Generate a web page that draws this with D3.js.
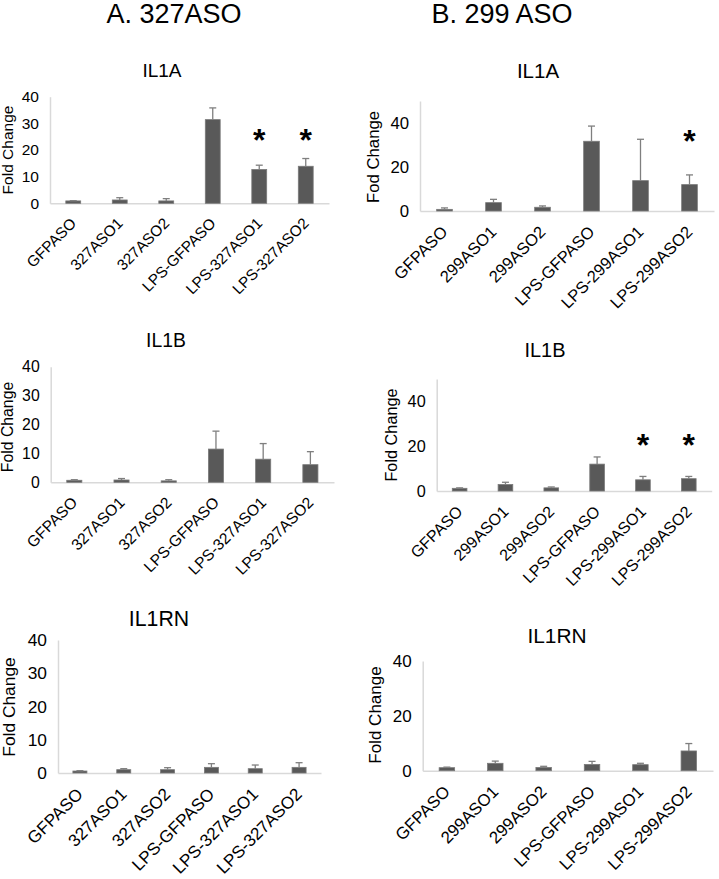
<!DOCTYPE html>
<html><head><meta charset="utf-8">
<script src="https://cdn.jsdelivr.net/npm/d3@7"></script>
<style>
html,body{margin:0;padding:0;background:#fff;}
text{font-family:"Liberation Sans",Arial,sans-serif;fill:#000;}
</style></head>
<body>
<svg id="chart" width="719" height="879"></svg>
<script>
// ---- data ----
const catsA = ["GFPASO","327ASO1","327ASO2","LPS-GFPASO","LPS-327ASO1","LPS-327ASO2"];
const catsB = ["GFPASO","299ASO1","299ASO2","LPS-GFPASO","LPS-299ASO1","LPS-299ASO2"];
const headings = ["A. 327ASO","B. 299 ASO"];
const ticksA = [0,10,20,30,40];
const ticksB = [0,20,40];

const il1aA = [0.9,1.25,0.9,31.4,12.7,13.9];
const il1aAErr = [0.1,0.85,0.85,4.4,1.6,2.9];
const il1aB = [0.75,3.8,1.7,31.7,13.8,12.0];
const il1aBErr = [0.65,1.5,0.6,6.9,18.8,4.4];
const il1bA = [0.7,0.8,0.5,11.5,8.0,6.1];
const il1bAErr = [0.2,0.5,0.4,6.2,5.4,4.5];
const il1bB = [1.2,2.9,1.4,12.0,5.0,5.5];
const il1bBErr = [0.2,1.0,0.4,3.2,1.5,1.0];
const il1rnA = [0.6,1.0,1.0,1.7,1.3,1.7];
const il1rnAErr = [0.1,0.3,0.6,1.1,1.1,1.4];
const il1rnB = [1.1,2.7,1.2,2.3,2.2,7.2];
const il1rnBErr = [0.2,0.8,0.4,1.1,0.5,2.7];

// significance markers: [category index, level]
const starsIl1aA = [[4,26],[5,26]];
const starsIl1aB = [[5,34.5]];
const starsIl1bB = [[4,23],[5,23]];

// ---- layout ----
const panels = [
  {title:"IL1A", ylab:"Fold Change", cats:catsA, vals:il1aA, err:il1aAErr, stars:starsIl1aA, ymax:40, ticks:ticksA, f:1.0,
   x0:50, x1:329, y0:203.3, y1:96.7, tx:162, ty:77, lx:13, ly:150},
  {title:"IL1A", ylab:"Fod Change", cats:catsB, vals:il1aB, err:il1aBErr, stars:starsIl1aB, ymax:50, ticks:ticksB, f:1.08,
   x0:420, x1:714, y0:211, y1:101, tx:538, ty:78, lx:379, ly:157},
  {title:"IL1B", ylab:"Fold Change", cats:catsA, vals:il1bA, err:il1bAErr, stars:[], ymax:40, ticks:ticksA, f:1.02,
   x0:50.7, x1:334, y0:482.3, y1:366.7, tx:166, ty:347, lx:13, ly:427},
  {title:"IL1B", ylab:"Fold Change", cats:catsB, vals:il1bB, err:il1bBErr, stars:starsIl1bB, ymax:50, ticks:ticksB, f:1.05,
   x0:436.7, x1:711.7, y0:491, y1:379, tx:545, ty:357, lx:397, ly:435},
  {title:"IL1RN", ylab:"Fold Change", cats:catsA, vals:il1rnA, err:il1rnAErr, stars:[], ymax:40, ticks:ticksA, f:1.12,
   x0:58, x1:321, y0:773, y1:640, tx:159, ty:626, lx:15, ly:707},
  {title:"IL1RN", ylab:"Fold Change", cats:catsB, vals:il1rnB, err:il1rnBErr, stars:[], ymax:40, ticks:ticksB, f:1.1,
   x0:422.7, x1:713, y0:770.7, y1:661, tx:557, ty:643, lx:381, ly:715}
];

const svg = d3.select("#chart");

svg.selectAll("text.heading").data(headings).join("text")
  .attr("class","heading")
  .attr("x",(d,i)=> i===0 ? 174 : 502)
  .attr("y",23)
  .attr("text-anchor","middle")
  .style("font-size","27px")
  .text(d=>d);

panels.forEach(p=>{
  const g = svg.append("g");
  const f = p.f;
  const x = d3.scaleBand().domain(p.cats).range([p.x0,p.x1]).paddingInner(0.68).paddingOuter(0.34);
  const y = d3.scaleLinear().domain([0,p.ymax]).range([p.y0,p.y1]);

  // axes
  const yAxis = g.append("g").attr("transform",`translate(${p.x0},0)`)
    .call(d3.axisLeft(y).tickValues(p.ticks).tickSize(0).tickPadding(11).tickFormat(d3.format("d")));
  yAxis.select(".domain").attr("stroke","#d9d9d9").attr("stroke-width",1.5);
  yAxis.selectAll("text").style("font-size",(15.5*f)+"px").attr("fill","#000").attr("font-family",null);

  const xfs = 15.3*f;
  const xAxis = g.append("g").attr("transform",`translate(0,${p.y0})`)
    .call(d3.axisBottom(x).tickSize(0).tickPadding(0).tickSizeOuter(0));
  xAxis.select(".domain").attr("stroke","#d9d9d9").attr("stroke-width",1.5);
  xAxis.selectAll("text")
    .style("font-size",xfs+"px").attr("fill","#000").attr("font-family",null)
    .attr("text-anchor","end")
    .attr("dy",null)
    .attr("x",0).attr("y",0)
    .attr("transform",`translate(4,${10+xfs*0.72}) rotate(-45)`);

  // bars
  g.selectAll("rect.bar").data(p.vals).join("rect")
    .attr("class","bar")
    .attr("x",(d,i)=>x(p.cats[i]))
    .attr("width",x.bandwidth())
    .attr("y",d=>y(d))
    .attr("height",d=>p.y0-y(d))
    .attr("fill","#595959")
    .attr("stroke","#7a7a7a").attr("stroke-width",0.8);

  // error bars (upper only)
  const cap = 3.5;
  p.vals.forEach((v,i)=>{
    const cx = x(p.cats[i]) + x.bandwidth()/2;
    const top = y(v + p.err[i]);
    g.append("line").attr("x1",cx).attr("x2",cx).attr("y1",y(v)).attr("y2",top)
      .attr("stroke","#7f7f7f").attr("stroke-width",1.3);
    g.append("line").attr("x1",cx-cap).attr("x2",cx+cap).attr("y1",top).attr("y2",top)
      .attr("stroke","#7f7f7f").attr("stroke-width",1.3);
  });

  // stars
  g.selectAll("text.star").data(p.stars).join("text")
    .attr("class","star")
    .attr("x",d=>x(p.cats[d[0]]) + x.bandwidth()/2)
    .attr("y",d=>y(d[1]) + 17)
    .attr("text-anchor","middle")
    .style("font-size","32px").style("font-weight","bold")
    .text("*");

  // title
  g.append("text").attr("x",p.tx).attr("y",p.ty).attr("text-anchor","middle")
    .style("font-size",(19*f)+"px").text(p.title);

  // y label
  g.append("text").attr("transform",`translate(${p.lx},${p.ly}) rotate(-90)`)
    .attr("text-anchor","middle").style("font-size",(15.5*f)+"px").text(p.ylab);
});
</script>
</body></html>
